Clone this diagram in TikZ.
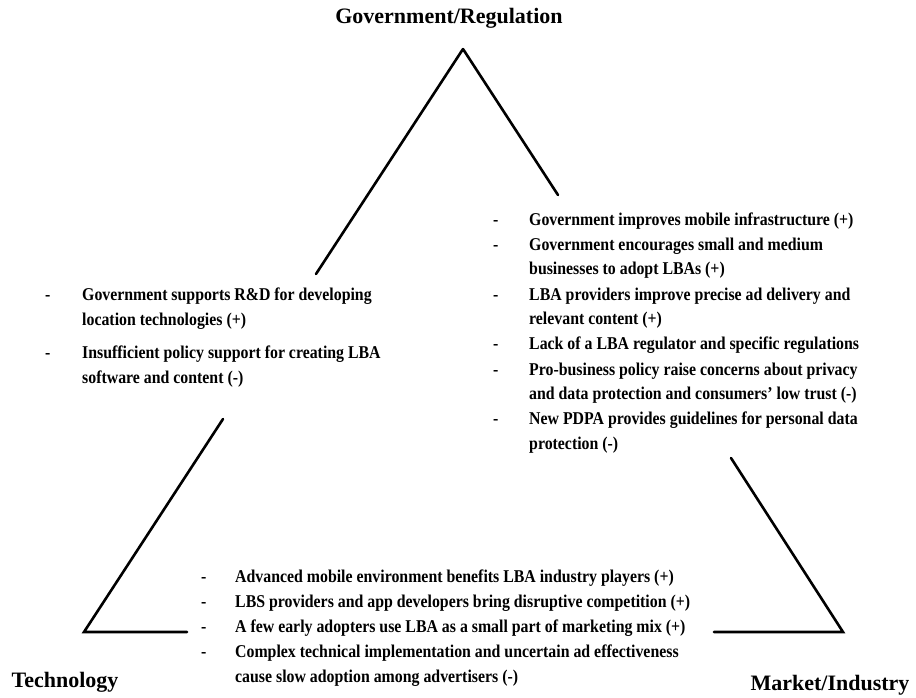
\documentclass[tikz,border=0pt]{standalone}
\usepackage{fontspec}
\setmainfont{Liberation Serif}
\newfontfamily\itemfont{Liberation Serif}[FakeStretch=0.88]
\usepackage{tikz}
\usetikzlibrary{positioning}

\begin{document}
\begin{tikzpicture}[
    x=1pt, y=-1pt,
    side/.style={line width=2.6pt, line cap=round},
    corner/.style={font=\fontsize{22}{26}\selectfont\bfseries},
    factors/.style={inner sep=0pt, anchor=base west, align=left, font=\itemfont\fontsize{18}{25}\selectfont\bfseries}
]
\useasboundingbox (0,0) rectangle (916,698);

\node[corner] (gov) at (449,18) {Government/Regulation};
\node[corner] (tech) at (65,682) {Technology};
\node[corner] (market) at (830,685) {Market/Industry};

\coordinate (apex) at (463,49);
\coordinate (lcorner) at (84,632);
\coordinate (rcorner) at (843,632);
\coordinate (lup) at (316,274);
\coordinate (llow) at (223,419);
\coordinate (rup) at (558,195);
\coordinate (rlow) at (731,458);
\coordinate (bleft) at (187,632);
\coordinate (bright) at (714,632);

% triangle, broken where the lists sit
\draw[side] (apex) -- (lup);
\draw[side] (llow) -- (lcorner) -- (bleft);
\draw[side] (bright) -- (rcorner) -- (rlow);
\draw[side] (apex) -- (rup);

\node[factors] (techgov) at (45,300) {\begin{tabular}[t]{@{}p{37pt}@{}l@{}}
- & Government supports R\&D for developing\\
  & location technologies (+)\\[8pt]
- & Insufficient policy support for creating LBA\\
  & software and content (-)
\end{tabular}};

\node[factors] (govmarket) at (493,225) {\begin{tabular}[t]{@{}p{36pt}@{}l@{}}
- & Government improves mobile infrastructure (+)\\
- & Government encourages small and medium\\
  & businesses to adopt LBAs (+)\\
- & LBA providers improve precise ad delivery and\\
  & relevant content (+)\\
- & Lack of a LBA regulator and specific regulations\\
- & Pro-business policy raise concerns about privacy\\
  & and data protection and consumers’ low trust (-)\\
- & New PDPA provides guidelines for personal data\\
  & protection (-)
\end{tabular}};

\node[factors] (techmarket) at (201,582) {\begin{tabular}[t]{@{}p{34pt}@{}l@{}}
- & Advanced mobile environment benefits LBA industry players (+)\\
- & LBS providers and app developers bring disruptive competition (+)\\
- & A few early adopters use LBA as a small part of marketing mix (+)\\
- & Complex technical implementation and uncertain ad effectiveness\\
  & cause slow adoption among advertisers (-)
\end{tabular}};

\end{tikzpicture}
\end{document}
